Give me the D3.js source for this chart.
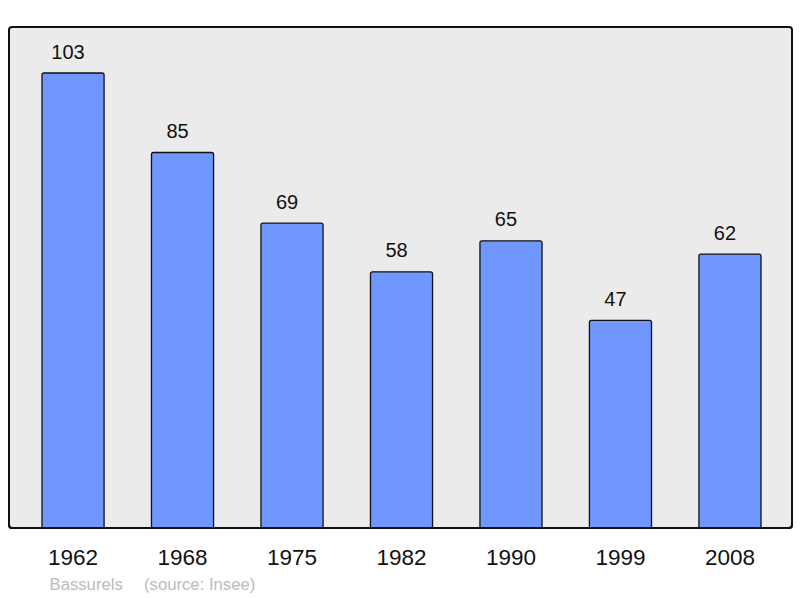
<!DOCTYPE html>
<html><head><meta charset="utf-8">
<script src="https://cdn.jsdelivr.net/npm/d3@7/dist/d3.min.js"></script>
<style>body{margin:0;background:#fff}svg{display:block}text{font-family:"Liberation Sans",Arial,sans-serif}</style>
</head><body>
<script>
const years = ["1962","1968","1975","1982","1990","1999","2008"];
const values = [103, 85, 69, 58, 65, 47, 62];
const caption = ["Bassurels", "(source: Insee)"];

const W = 800, H = 598;
const panel = {x0: 9, y0: 27, x1: 792, y1: 528};
const svg = d3.select("body").append("svg").attr("width", W).attr("height", H);

svg.append("rect").attr("x", panel.x0).attr("y", panel.y0)
  .attr("width", panel.x1 - panel.x0).attr("height", panel.y1 - panel.y0)
  .attr("rx", 3).attr("fill", "#ebebeb").attr("stroke", "#111").attr("stroke-width", 2);

const x = d3.scaleBand().domain(years).range([42, 761]).paddingInner(0.433).paddingOuter(0);
const y = d3.scaleLinear().domain([0, 103]).range([panel.y1, 73]);

svg.selectAll("rect.bar").data(values).join("rect").attr("class", "bar")
  .attr("x", (d, i) => x(years[i])).attr("width", x.bandwidth())
  .attr("y", d => y(d)).attr("height", d => panel.y1 - y(d) + 2)
  .attr("rx", 2).attr("fill", "#7097ff").attr("stroke", "#111").attr("stroke-width", 1.3);

svg.append("rect").attr("x", 0).attr("y", panel.y1 + 1).attr("width", W).attr("height", 10).attr("fill", "#fff");
svg.append("path")
  .attr("d", `M${panel.x0},${panel.y1 - 6} L${panel.x0},${panel.y1 - 3} Q${panel.x0},${panel.y1} ${panel.x0 + 3},${panel.y1} L${panel.x1 - 3},${panel.y1} Q${panel.x1},${panel.y1} ${panel.x1},${panel.y1 - 3} L${panel.x1},${panel.y1 - 6}`)
  .attr("fill", "none").attr("stroke", "#111").attr("stroke-width", 2);

svg.selectAll("text.val").data(values).join("text").attr("class", "val")
  .attr("x", (d, i) => x(years[i]) + x.bandwidth() / 2 - 5).attr("y", d => y(d) - 14.5)
  .attr("text-anchor", "middle").attr("font-size", 20).attr("fill", "#111").text(d => d);

svg.selectAll("text.yr").data(years).join("text").attr("class", "yr")
  .attr("x", d => x(d) + x.bandwidth() / 2).attr("y", 565)
  .attr("text-anchor", "middle").attr("font-size", 22.5).attr("fill", "#111").text(d => d);

svg.append("text").attr("x", 49.5).attr("y", 590).attr("font-size", 16.7).attr("fill", "#bbb").text(caption[0]);
svg.append("text").attr("x", 144).attr("y", 590).attr("font-size", 16.7).attr("fill", "#bbb").text(caption[1]);
</script>
</body></html>
